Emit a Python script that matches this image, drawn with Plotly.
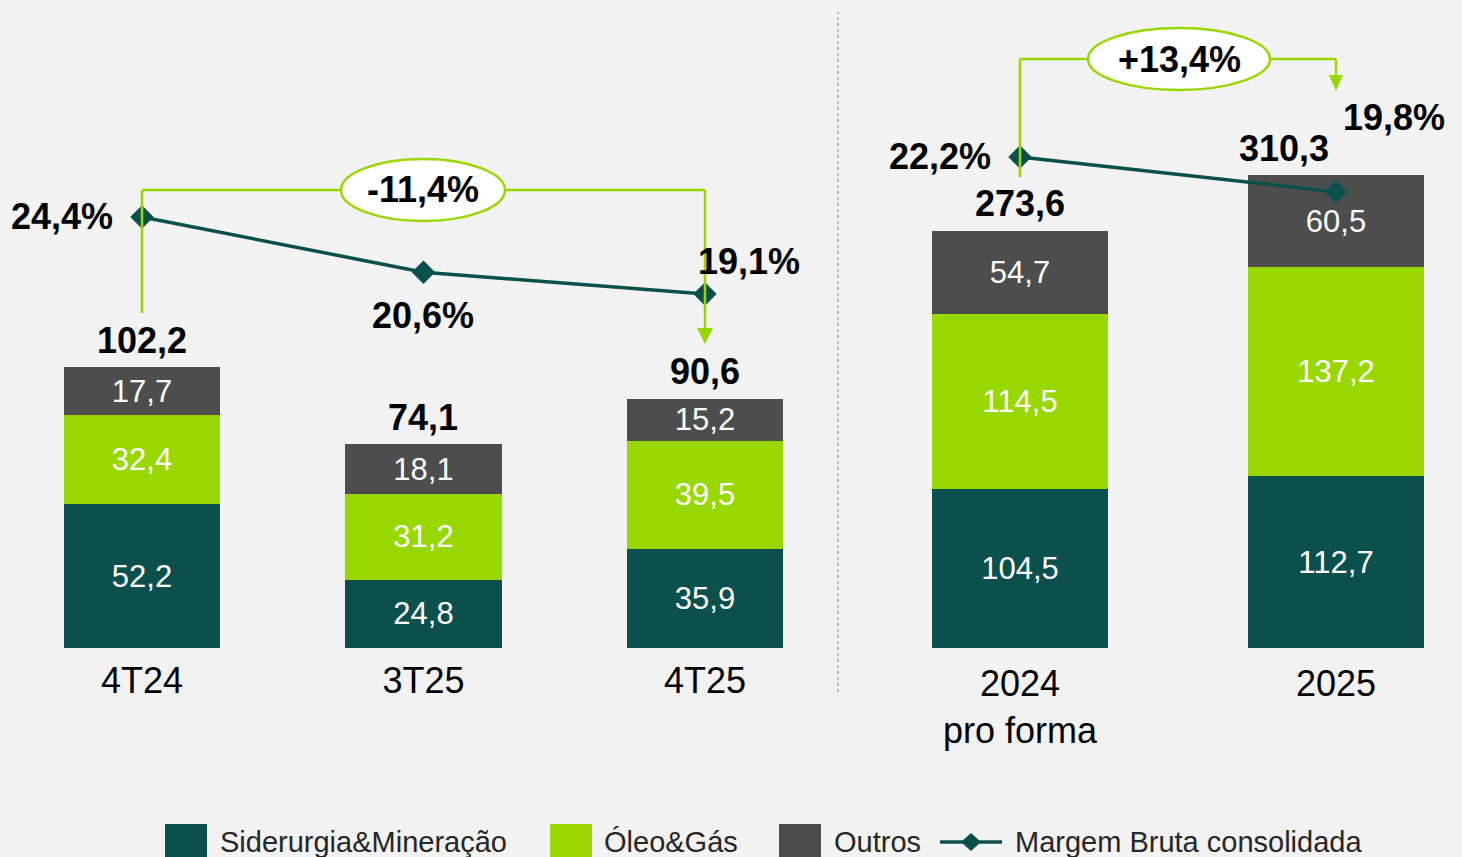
import plotly.graph_objects as go

# ---------------- data ----------------
cats_left = ["4T24", "3T25", "4T25"]
cats_right = ["2024<br>pro forma", "2025"]

sider_left = [52.2, 24.8, 35.9]
oleo_left = [32.4, 31.2, 39.5]
outros_left = [17.7, 18.1, 15.2]
total_left = [102.2, 74.1, 90.6]
margem_left = [24.4, 20.6, 19.1]

sider_right = [104.5, 112.7]
oleo_right = [114.5, 137.2]
outros_right = [54.7, 60.5]
total_right = [273.6, 310.3]
margem_right = [22.2, 19.8]

variation_labels = ["-11,4%", "+13,4%"]

series_names = ["Siderurgia&Mineração", "Óleo&Gás", "Outros"]
line_name = "Margem Bruta consolidada"

# ---------------- style ----------------
W, H = 1462, 857
TEAL = "#0c504e"
GREEN = "#99d700"
GRAY = "#4d4d4d"
BG = "#f2f2f2"
FONT = "Arial, Liberation Sans, sans-serif"
BOLD_SIZE = 36
INSIDE_SIZE = 31
colors = [TEAL, GREEN, GRAY]


def fmt(v):
    return f"{v:.1f}".replace(".", ",")


def fx(px):
    return px / W


def fy(py):
    return 1 - py / H


xl = list(range(len(cats_left)))
xr = list(range(len(cats_right)))

fig = go.Figure()

# bars
for name, vals_l, vals_r, col in zip(series_names,
                                     [sider_left, oleo_left, outros_left],
                                     [sider_right, oleo_right, outros_right],
                                     colors):
    fig.add_trace(go.Bar(x=xl, y=vals_l, name=name, marker_color=col,
                         marker_line_width=0,
                         text=[fmt(v) for v in vals_l], textposition="inside",
                         insidetextanchor="middle",
                         textfont=dict(color="white", size=INSIDE_SIZE, family=FONT),
                         xaxis="x", yaxis="y", legendgroup=name))
    fig.add_trace(go.Bar(x=xr, y=vals_r, name=name, marker_color=col,
                         marker_line_width=0,
                         text=[fmt(v) for v in vals_r], textposition="inside",
                         insidetextanchor="middle",
                         textfont=dict(color="white", size=INSIDE_SIZE, family=FONT),
                         xaxis="x2", yaxis="y2", legendgroup=name))

# margin lines
fig.add_trace(go.Scatter(x=xl, y=margem_left, mode="lines+markers", name=line_name,
                         line=dict(color=TEAL, width=3.5),
                         marker=dict(symbol="diamond", size=18, color=TEAL),
                         xaxis="x", yaxis="y3", cliponaxis=False))
fig.add_trace(go.Scatter(x=xr, y=margem_right, mode="lines+markers", name=line_name,
                         line=dict(color=TEAL, width=3.5),
                         marker=dict(symbol="diamond", size=18, color=TEAL),
                         xaxis="x2", yaxis="y4", cliponaxis=False))

annotations = []
# totals
total_xshift_left = [0, 0, 0]
total_xshift_right = [0, -52]
for xs, tots, yref, shx in [(xl, total_left, "y", total_xshift_left),
                            (xr, total_right, "y2", total_xshift_right)]:
    xref = "x" if yref == "y" else "x2"
    for x, t, s in zip(xs, tots, shx):
        annotations.append(dict(x=x, y=t, xref=xref, yref=yref, text=f"<b>{fmt(t)}</b>",
                                showarrow=False, yshift=27, xshift=s,
                                font=dict(size=BOLD_SIZE, color="black", family=FONT)))

# margin labels
shifts_left = [(-80, 0), (0, -43), (44, 32)]
shifts_right = [(-80, 0), (58, 74)]
for xs, vals, yref, xref, shifts in [(xl, margem_left, "y3", "x", shifts_left),
                                     (xr, margem_right, "y4", "x2", shifts_right)]:
    for x, v, (sx, sy) in zip(xs, vals, shifts):
        annotations.append(dict(x=x, y=v, xref=xref, yref=yref,
                                text=f"<b>{fmt(v)}%</b>", showarrow=False,
                                xshift=sx, yshift=sy,
                                font=dict(size=BOLD_SIZE, color="black", family=FONT)))

shapes = []
# divider
shapes.append(dict(type="line", xref="paper", yref="paper", x0=fx(838), x1=fx(838),
                   y0=fy(692), y1=fy(12), line=dict(color="#a6a6a6", width=1.5, dash="dot")))

gl = dict(color=GREEN, width=2.5)
P = dict(xref="paper", yref="paper")
# left bracket
shapes += [
    dict(type="line", **P, x0=fx(142), x1=fx(142), y0=fy(313), y1=fy(190), line=gl),
    dict(type="line", **P, x0=fx(142), x1=fx(341), y0=fy(190), y1=fy(190), line=gl),
    dict(type="line", **P, x0=fx(505), x1=fx(705), y0=fy(190), y1=fy(190), line=gl),
    dict(type="line", **P, x0=fx(705), x1=fx(705), y0=fy(190), y1=fy(330), line=gl),
    dict(type="path", **P,
         path=f"M {fx(697)} {fy(328)} L {fx(713)} {fy(328)} L {fx(705)} {fy(344)} Z",
         fillcolor=GREEN, line=dict(width=0)),
    dict(type="circle", **P, x0=fx(341), x1=fx(505), y0=fy(221), y1=fy(159),
         fillcolor="white", line=gl),
]
# right bracket
shapes += [
    dict(type="line", **P, x0=fx(1020), x1=fx(1020), y0=fy(177), y1=fy(59), line=gl),
    dict(type="line", **P, x0=fx(1020), x1=fx(1088), y0=fy(59), y1=fy(59), line=gl),
    dict(type="line", **P, x0=fx(1270), x1=fx(1336), y0=fy(59), y1=fy(59), line=gl),
    dict(type="line", **P, x0=fx(1336), x1=fx(1336), y0=fy(59), y1=fy(76), line=gl),
    dict(type="path", **P,
         path=f"M {fx(1329)} {fy(75)} L {fx(1343)} {fy(75)} L {fx(1336)} {fy(91)} Z",
         fillcolor=GREEN, line=dict(width=0)),
    dict(type="circle", **P, x0=fx(1088), x1=fx(1270), y0=fy(90), y1=fy(28),
         fillcolor="white", line=gl),
]
annotations.append(dict(x=fx(423), y=fy(190), **P, xanchor="center", yanchor="middle",
                        text=f"<b>{variation_labels[0]}</b>", showarrow=False,
                        font=dict(size=BOLD_SIZE, color="black", family=FONT)))
annotations.append(dict(x=fx(1179), y=fy(59), **P, xanchor="center", yanchor="middle",
                        text=f"<b>{variation_labels[1]}</b>", showarrow=False,
                        font=dict(size=BOLD_SIZE, color="black", family=FONT)))

# legend (drawn: large swatches like the original)
LEG_Y = 842
swatch_x = [165, 550, 779]
text_x = [218, 602, 832, 1013]
for sx, col in zip(swatch_x, colors):
    shapes.append(dict(type="rect", **P, x0=fx(sx), x1=fx(sx + 42), y0=fy(857), y1=fy(824),
                       fillcolor=col, line=dict(width=0)))
shapes.append(dict(type="line", **P, x0=fx(940), x1=fx(1002), y0=fy(LEG_Y), y1=fy(LEG_Y),
                   line=dict(color=TEAL, width=3.5)))
shapes.append(dict(type="path", **P,
                   path=(f"M {fx(961)} {fy(LEG_Y)} L {fx(971)} {fy(LEG_Y - 9)} "
                         f"L {fx(981)} {fy(LEG_Y)} L {fx(971)} {fy(LEG_Y + 9)} Z"),
                   fillcolor=TEAL, line=dict(width=0)))
for tx, label in zip(text_x, series_names + [line_name]):
    annotations.append(dict(x=fx(tx), y=fy(LEG_Y), **P, xanchor="left", yanchor="middle",
                            text=label, showarrow=False,
                            font=dict(size=29, color="#262626", family=FONT)))

ydom = [fy(648), 1]
fig.update_layout(
    width=W, height=H,
    margin=dict(l=0, r=0, t=0, b=0),
    paper_bgcolor=BG, plot_bgcolor=BG,
    barmode="stack", bargap=0.443,
    font=dict(family=FONT, color="black"),
    showlegend=False,
    xaxis=dict(domain=[0, fx(838)], range=[-0.5044, 2.4725], tickvals=xl, ticktext=cats_left,
               showgrid=False, zeroline=False, showline=False, ticks="",
               tickfont=dict(size=36, color="black"), anchor="y", ticklabelstandoff=8),
    xaxis2=dict(domain=[fx(880), 1], range=[-0.4430, 1.3987], tickvals=xr, ticktext=cats_right,
                showgrid=False, zeroline=False, showline=False, ticks="",
                tickfont=dict(size=36, color="black"), anchor="y2", ticklabelstandoff=11),
    yaxis=dict(domain=ydom, range=[0, 235.68], visible=False, anchor="x"),
    yaxis2=dict(domain=ydom, range=[0, 425.15], visible=False, anchor="x2"),
    yaxis3=dict(domain=ydom, range=[-5.26, 39.33], visible=False, overlaying="y", anchor="x"),
    yaxis4=dict(domain=ydom, range=[-11.55, 32.99], visible=False, overlaying="y2", anchor="x2"),
    uniformtext=dict(minsize=INSIDE_SIZE, mode="show"),
    annotations=annotations,
    shapes=shapes,
)

fig.write_html("out.html", config={"displayModeBar": False},
               post_script="document.body.style.margin='0px';document.body.style.overflow='hidden';")
